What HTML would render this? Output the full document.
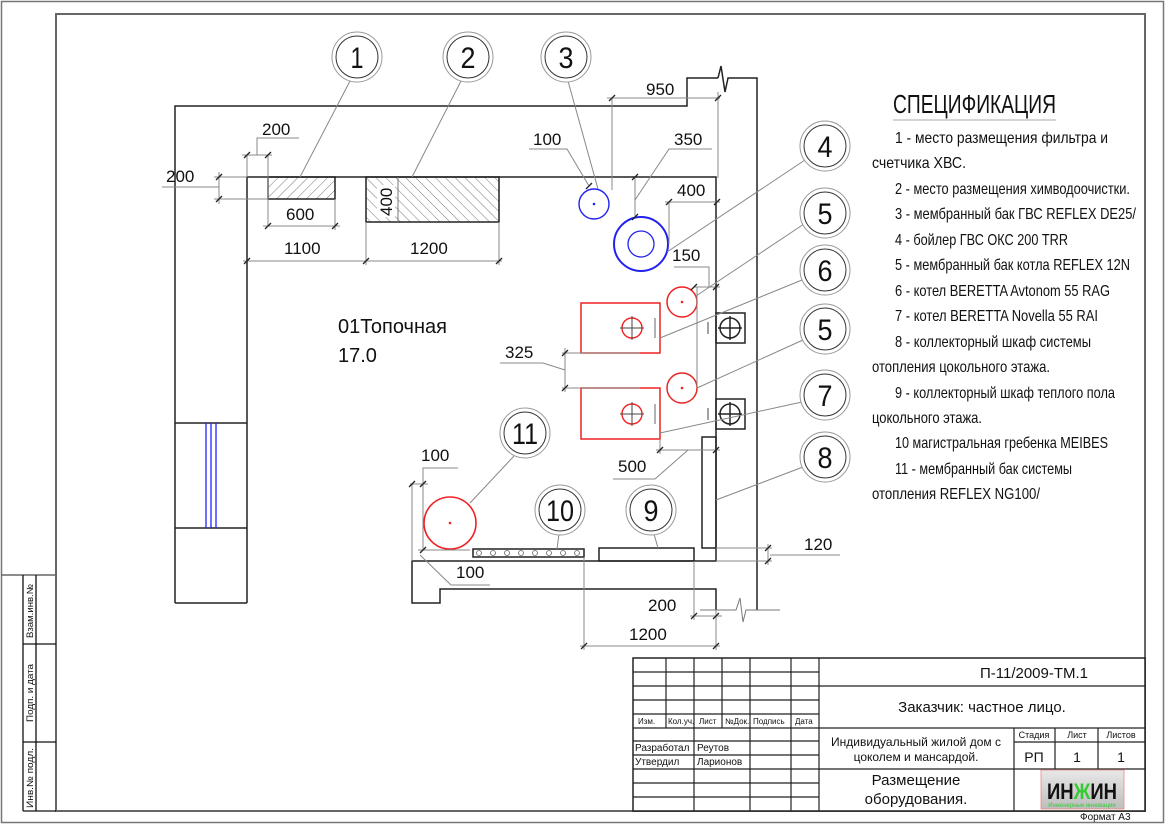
<!DOCTYPE html>
<html><head><meta charset="utf-8"><style>
html,body{margin:0;padding:0;background:#fff}
svg{display:block}
text{font-family:"Liberation Sans","Noto Sans CJK SC",sans-serif;fill:#111}
</style></head><body>
<svg width="1166" height="825" viewBox="0 0 1166 825" xmlns="http://www.w3.org/2000/svg">
<defs>
<pattern id="h" width="7" height="7" patternUnits="userSpaceOnUse" patternTransform="rotate(45)">
<line x1="0" y1="0" x2="0" y2="7" stroke="#777" stroke-width="1"/></pattern>
<pattern id="h2" width="7" height="7" patternUnits="userSpaceOnUse" patternTransform="rotate(-45)">
<line x1="0" y1="0" x2="0" y2="7" stroke="#777" stroke-width="1"/></pattern>
<linearGradient id="lg" x1="0" y1="0" x2="0" y2="1"><stop offset="0" stop-color="#e8e8e8"/><stop offset="1" stop-color="#bdbdbd"/></linearGradient>
</defs>
<rect x="1.5" y="1.5" width="1162" height="821" fill="none" stroke="#777" stroke-width="1.5"/>
<polyline points="56,574 56,811 1145,811 1145,14 56,14 56,574" fill="none" stroke="#666" stroke-width="2"/>
<line x1="1" y1="575" x2="56" y2="575" stroke="#666" stroke-width="1.5"/>
<g stroke="#111" stroke-width="1.3" fill="none">
<line x1="23" y1="575" x2="23" y2="811"/><line x1="36" y1="575" x2="36" y2="811"/>
<line x1="23" y1="644" x2="56" y2="644"/><line x1="23" y1="742" x2="56" y2="742"/><line x1="23" y1="811" x2="56" y2="811"/>
</g>
<text font-size="9" transform="translate(33,638) rotate(-90)" textLength="54" lengthAdjust="spacingAndGlyphs">Взам.инв.№</text>
<text font-size="9" transform="translate(33,722) rotate(-90)" textLength="58" lengthAdjust="spacingAndGlyphs">Подп. и дата</text>
<text font-size="9" transform="translate(33,808) rotate(-90)" textLength="60" lengthAdjust="spacingAndGlyphs">Инв.№ подл.</text>

<g stroke="#222" stroke-width="1.5" fill="none">
<polyline points="175,603 175,106 687,106 687,78 718,78"/>
<polyline points="718,78 721,66 725,92 728,78 757,78 757,610"/>
<polyline points="247,603 247,177 716,177 716,561 412,561 412,603 440,603 440,589 716,589 716,610"/>
<line x1="175" y1="603" x2="247" y2="603"/>
<line x1="175" y1="423" x2="247" y2="423"/><line x1="175" y1="528" x2="247" y2="528"/>
<rect x="702" y="437" width="14" height="111"/>
<rect x="599" y="548" width="95" height="13"/>
<rect x="473" y="549" width="111" height="8"/>
<rect x="716" y="313" width="29" height="30"/>
<rect x="716" y="399" width="29" height="30"/>
<circle cx="730" cy="328" r="10"/><line x1="718" y1="328" x2="742" y2="328"/><line x1="730" y1="316" x2="730" y2="340"/>
<circle cx="730" cy="414" r="10"/><line x1="718" y1="414" x2="742" y2="414"/><line x1="730" y1="402" x2="730" y2="426"/>
</g>
<g stroke="#444" stroke-width="1"><line x1="708" y1="322" x2="708" y2="334"/><line x1="708" y1="408" x2="708" y2="420"/></g>
<polyline points="700,610 736,610 740,598 743,622 746,610 780,610" fill="none" stroke="#777" stroke-width="1"/>
<g stroke="#2222ff" stroke-width="1.3"><line x1="206" y1="423" x2="206" y2="528"/><line x1="211" y1="423" x2="211" y2="528"/><line x1="216" y1="423" x2="216" y2="528"/></g>
<g stroke="#666" stroke-width="0.8" fill="none">
<circle cx="479" cy="553" r="2.5"/><circle cx="493" cy="553" r="2.5"/><circle cx="507" cy="553" r="2.5"/><circle cx="521" cy="553" r="2.5"/><circle cx="535" cy="553" r="2.5"/><circle cx="549" cy="553" r="2.5"/><circle cx="563" cy="553" r="2.5"/><circle cx="577" cy="553" r="2.5"/>
</g>
<rect x="268" y="177" width="67" height="22" fill="url(#h)" stroke="#222" stroke-width="1.5"/>
<rect x="366" y="177" width="133" height="45" fill="url(#h2)" stroke="#222" stroke-width="1.5"/>
<rect x="377" y="185" width="18" height="32" fill="#fff"/>
<line x1="398" y1="177" x2="398" y2="222" stroke="#777"/>
<text font-size="17" transform="translate(392,216) rotate(-90)">400</text>

<g fill="none">
<circle cx="594" cy="204" r="15" stroke="#2222ee" stroke-width="1.4"/>
<circle cx="641" cy="244" r="27" stroke="#2222ee" stroke-width="2"/>
<circle cx="641" cy="244" r="13" stroke="#2222ee" stroke-width="1.3"/>
<circle cx="682" cy="302" r="15" stroke="#e22" stroke-width="1.5"/>
<circle cx="682" cy="388" r="15" stroke="#e22" stroke-width="1.5"/>
<circle cx="450" cy="523" r="26" stroke="#e22" stroke-width="1.6"/>
<rect x="581" y="303" width="79" height="50" stroke="#e22" stroke-width="1.5"/>
<rect x="581" y="388" width="79" height="51" stroke="#e22" stroke-width="1.5"/>
<circle cx="632" cy="328" r="10" stroke="#e22" stroke-width="1.4"/>
<circle cx="632" cy="414" r="10" stroke="#e22" stroke-width="1.4"/>
</g>
<g stroke="#444" stroke-width="1"><line x1="620" y1="328" x2="644" y2="328"/><line x1="632" y1="316" x2="632" y2="340"/><line x1="620" y1="414" x2="644" y2="414"/><line x1="632" y1="402" x2="632" y2="426"/></g>
<g stroke="#999" stroke-width="1.5"><line x1="655" y1="318" x2="655" y2="338"/><line x1="655" y1="404" x2="655" y2="424"/></g>
<g fill="#e22"><circle cx="682" cy="302" r="1.3"/><circle cx="682" cy="388" r="1.3"/><circle cx="450" cy="523" r="1.3"/></g>
<circle cx="594" cy="204" r="1.3" fill="#22e"/>

<g stroke="#888" stroke-width="1" fill="none">
<line x1="607" y1="98" x2="720" y2="98"/><line x1="612" y1="98" x2="612" y2="190"/><line x1="718" y1="92" x2="718" y2="178"/>
<line x1="242" y1="155" x2="272" y2="155"/><line x1="247" y1="155" x2="247" y2="177"/><line x1="268" y1="155" x2="268" y2="226"/>
<polyline points="257,155 257,138 299,138"/>
<line x1="219" y1="172" x2="219" y2="204"/><line x1="214" y1="177" x2="247" y2="177"/><line x1="214" y1="199" x2="268" y2="199"/>
<line x1="162" y1="187" x2="219" y2="187"/>
<line x1="263" y1="226" x2="340" y2="226"/><line x1="335" y1="199" x2="335" y2="230"/>
<line x1="243" y1="261" x2="502" y2="261"/><line x1="366" y1="222" x2="366" y2="265"/><line x1="499" y1="222" x2="499" y2="265"/>
<polyline points="529,149 567,149 589,186"/>
<line x1="635" y1="177" x2="635" y2="217"/><polyline points="635,200 669,149 712,149"/>
<line x1="665" y1="202" x2="720" y2="202"/><line x1="669" y1="202" x2="669" y2="244"/>
<line x1="694" y1="287" x2="720" y2="287"/><polyline points="674,267 709,267 709,287"/>
<line x1="697" y1="287" x2="697" y2="388"/>
<line x1="565" y1="348" x2="565" y2="392"/><line x1="562" y1="353" x2="640" y2="353"/><line x1="562" y1="388" x2="640" y2="388"/>
<polyline points="500,363 543,363 565,370"/>
<line x1="656" y1="450" x2="720" y2="450"/><line x1="660" y1="439" x2="660" y2="454"/><polyline points="688,450 655,479 613,479"/>
<line x1="410" y1="484" x2="428" y2="484"/><line x1="412" y1="484" x2="412" y2="561"/><polyline points="423,484 423,468 458,468"/>
<line x1="423" y1="484" x2="423" y2="550"/><line x1="418" y1="550" x2="470" y2="550"/>
<polyline points="420,555 451,585 490,585"/>
<line x1="768" y1="544" x2="768" y2="565"/><line x1="716" y1="548" x2="772" y2="548"/><line x1="716" y1="561" x2="772" y2="561"/>
<line x1="770" y1="555" x2="840" y2="555"/>
<line x1="690" y1="616" x2="722" y2="616"/><line x1="694" y1="561" x2="694" y2="620"/><line x1="716" y1="610" x2="716" y2="650"/>
<line x1="580" y1="646" x2="720" y2="646"/><line x1="584" y1="557" x2="584" y2="650"/>
</g>
<g stroke="#222" stroke-width="1.3">
<path d="M609,101 l6,-6 M715,101 l6,-6 M244,158 l6,-6 M265,158 l6,-6 M216,180 l6,-6 M216,202 l6,-6 M265,229 l6,-6 M332,229 l6,-6 M244,264 l6,-6 M363,264 l6,-6 M496,264 l6,-6 M632,180 l6,-6 M632,220 l6,-6 M666,205 l6,-6 M714,205 l6,-6 M691,290 l6,-6 M713,290 l6,-6 M562,356 l6,-6 M562,391 l6,-6 M657,453 l6,-6 M713,453 l6,-6 M409,487 l6,-6 M420,487 l6,-6 M420,553 l6,-6 M765,551 l6,-6 M765,564 l6,-6 M691,619 l6,-6 M713,619 l6,-6 M581,649 l6,-6 M713,649 l6,-6 M586,189 l6,-6"/>
</g>
<g font-size="17">
<text x="646" y="95">950</text>
<text x="262" y="135">200</text>
<text x="166" y="182">200</text>
<text x="286" y="220">600</text>
<text x="284" y="254">1100</text>
<text x="410" y="254">1200</text>
<text x="533" y="145">100</text>
<text x="674" y="145">350</text>
<text x="677" y="196">400</text>
<text x="672" y="261">150</text>
<text x="505" y="358">325</text>
<text x="618" y="472">500</text>
<text x="421" y="461">100</text>
<text x="456" y="578">100</text>
<text x="804" y="550">120</text>
<text x="648" y="611">200</text>
<text x="629" y="640">1200</text>
</g>
<text x="338" y="333" font-size="20">01Топочная</text>
<text x="338" y="362" font-size="20">17.0</text>

<g stroke="#888" stroke-width="1">
<line x1="350" y1="81" x2="300" y2="177"/><line x1="461" y1="81" x2="412" y2="177"/><line x1="568" y1="81" x2="598" y2="189"/>
<line x1="805" y1="160" x2="667" y2="252"/><line x1="804" y1="224" x2="696" y2="296"/><line x1="802" y1="280" x2="660" y2="338"/>
<line x1="803" y1="340" x2="697" y2="388"/><line x1="802" y1="402" x2="660" y2="433"/><line x1="803" y1="467" x2="716" y2="500"/>
<line x1="514" y1="456" x2="470" y2="503"/><line x1="559" y1="534" x2="557" y2="549"/><line x1="654" y1="534" x2="658" y2="548"/>
</g>
<g fill="#fff" stroke-width="1">
<g stroke="#999"><circle cx="357" cy="57" r="25"/><circle cx="468" cy="57" r="25"/><circle cx="566" cy="57" r="25"/><circle cx="825" cy="146" r="25"/><circle cx="825" cy="213" r="25"/><circle cx="825" cy="270" r="25"/><circle cx="825" cy="329" r="25"/><circle cx="825" cy="395" r="25"/><circle cx="825" cy="457" r="25"/><circle cx="525" cy="433" r="25"/><circle cx="560" cy="510" r="25"/><circle cx="651" cy="510" r="25"/></g>
<g stroke="#333" fill="none"><circle cx="357" cy="57" r="21"/><circle cx="468" cy="57" r="21"/><circle cx="566" cy="57" r="21"/><circle cx="825" cy="146" r="21"/><circle cx="825" cy="213" r="21"/><circle cx="825" cy="270" r="21"/><circle cx="825" cy="329" r="21"/><circle cx="825" cy="395" r="21"/><circle cx="825" cy="457" r="21"/><circle cx="525" cy="433" r="21"/><circle cx="560" cy="510" r="21"/><circle cx="651" cy="510" r="21"/></g>
</g>
<g font-size="30" text-anchor="middle">
<text x="357" y="68" textLength="13" lengthAdjust="spacingAndGlyphs">1</text>
<text x="468" y="68" textLength="15" lengthAdjust="spacingAndGlyphs">2</text>
<text x="566" y="68" textLength="15" lengthAdjust="spacingAndGlyphs">3</text>
<text x="825" y="157" textLength="15" lengthAdjust="spacingAndGlyphs">4</text>
<text x="825" y="224" textLength="15" lengthAdjust="spacingAndGlyphs">5</text>
<text x="825" y="281" textLength="15" lengthAdjust="spacingAndGlyphs">6</text>
<text x="825" y="340" textLength="15" lengthAdjust="spacingAndGlyphs">5</text>
<text x="825" y="406" textLength="15" lengthAdjust="spacingAndGlyphs">7</text>
<text x="825" y="468" textLength="15" lengthAdjust="spacingAndGlyphs">8</text>
<text x="525" y="444" textLength="26" lengthAdjust="spacingAndGlyphs">11</text>
<text x="560" y="521" textLength="28" lengthAdjust="spacingAndGlyphs">10</text>
<text x="651" y="521" textLength="15" lengthAdjust="spacingAndGlyphs">9</text>
</g>

<text x="893" y="113" font-size="26" textLength="163" lengthAdjust="spacingAndGlyphs">СПЕЦИФИКАЦИЯ</text>
<line x1="893" y1="120" x2="1056" y2="120" stroke="#aaa"/>
<g font-size="16">
<text x="895" y="143" textLength="213" lengthAdjust="spacingAndGlyphs">1 - место размещения фильтра и</text>
<text x="872" y="168" textLength="94" lengthAdjust="spacingAndGlyphs">счетчика ХВС.</text>
<text x="895" y="194" textLength="235" lengthAdjust="spacingAndGlyphs">2 - место размещения химводоочистки.</text>
<text x="895" y="219" textLength="241" lengthAdjust="spacingAndGlyphs">3 - мембранный бак ГВС REFLEX DE25/</text>
<text x="895" y="245" textLength="173" lengthAdjust="spacingAndGlyphs">4 - бойлер ГВС ОКС 200 TRR</text>
<text x="895" y="270" textLength="235" lengthAdjust="spacingAndGlyphs">5 - мембранный бак котла REFLEX 12N</text>
<text x="895" y="296" textLength="215" lengthAdjust="spacingAndGlyphs">6 - котел BERETTA Avtonom 55 RAG</text>
<text x="895" y="321" textLength="203" lengthAdjust="spacingAndGlyphs">7 - котел BERETTA Novella 55 RAI</text>
<text x="895" y="347" textLength="196" lengthAdjust="spacingAndGlyphs">8 - коллекторный шкаф системы</text>
<text x="872" y="372" textLength="178" lengthAdjust="spacingAndGlyphs">отопления цокольного этажа.</text>
<text x="895" y="398" textLength="220" lengthAdjust="spacingAndGlyphs">9 - коллекторный шкаф теплого пола</text>
<text x="872" y="423" textLength="110" lengthAdjust="spacingAndGlyphs">цокольного этажа.</text>
<text x="895" y="448" textLength="213" lengthAdjust="spacingAndGlyphs">10 магистральная гребенка MEIBES</text>
<text x="895" y="474" textLength="177" lengthAdjust="spacingAndGlyphs">11 - мембранный бак системы</text>
<text x="872" y="499" textLength="168" lengthAdjust="spacingAndGlyphs">отопления REFLEX NG100/</text>
</g>

<rect x="633" y="658" width="512" height="153" fill="#fff" stroke="#222" stroke-width="1.5"/>
<g stroke="#222" stroke-width="1.2">
<line x1="666" y1="658" x2="666" y2="728"/><line x1="694" y1="658" x2="694" y2="811"/><line x1="722" y1="658" x2="722" y2="728"/><line x1="750" y1="658" x2="750" y2="811"/><line x1="791" y1="658" x2="791" y2="811"/><line x1="819" y1="658" x2="819" y2="811"/>
<line x1="633" y1="672" x2="819" y2="672"/><line x1="633" y1="686" x2="1145" y2="686"/><line x1="633" y1="700" x2="819" y2="700"/><line x1="633" y1="714" x2="819" y2="714"/><line x1="633" y1="728" x2="1145" y2="728"/><line x1="633" y1="741" x2="819" y2="741"/><line x1="633" y1="755" x2="819" y2="755"/><line x1="633" y1="769" x2="1145" y2="769"/><line x1="633" y1="783" x2="819" y2="783"/><line x1="633" y1="797" x2="819" y2="797"/>
<line x1="1014" y1="728" x2="1014" y2="811"/><line x1="1055" y1="728" x2="1055" y2="769"/><line x1="1098" y1="728" x2="1098" y2="769"/><line x1="1014" y1="742" x2="1145" y2="742"/>
</g>
<g font-size="8"><text x="638" y="724">Изм.</text><text x="668" y="724">Кол.уч.</text><text x="699" y="724">Лист</text><text x="725" y="724">№Док.</text><text x="753" y="724">Подпись</text><text x="795" y="724">Дата</text></g>
<g font-size="10"><text x="635" y="751">Разработал</text><text x="697" y="751">Реутов</text><text x="635" y="765">Утвердил</text><text x="697" y="765">Ларионов</text></g>
<g text-anchor="middle">
<text x="1034" y="678" font-size="15">П-11/2009-ТМ.1</text>
<text x="982" y="712" font-size="15">Заказчик: частное лицо.</text>
<text x="916" y="746" font-size="12">Индивидуальный жилой дом с</text>
<text x="916" y="761" font-size="12">цоколем и мансардой.</text>
<text x="916" y="785" font-size="15">Размещение</text>
<text x="916" y="804" font-size="15">оборудования.</text>
<text x="1034" y="738" font-size="9">Стадия</text><text x="1077" y="738" font-size="9">Лист</text><text x="1121" y="738" font-size="9">Листов</text>
<text x="1034" y="762" font-size="14">РП</text><text x="1077" y="762" font-size="14">1</text><text x="1121" y="762" font-size="14">1</text>
</g>
<rect x="1041" y="770" width="83" height="39" fill="url(#lg)" stroke="#e88" stroke-width="0.8"/>
<text x="1082" y="799" font-size="22" font-weight="bold" text-anchor="middle" textLength="70" lengthAdjust="spacingAndGlyphs">ИН<tspan style="fill:#33cc33">Ж</tspan>ИН</text>
<text x="1082" y="807" font-size="6" style="fill:#33cc33" text-anchor="middle">Инженерные инновации</text>
<text x="1080" y="820" font-size="10">Формат А3</text>
</svg>
</body></html>
